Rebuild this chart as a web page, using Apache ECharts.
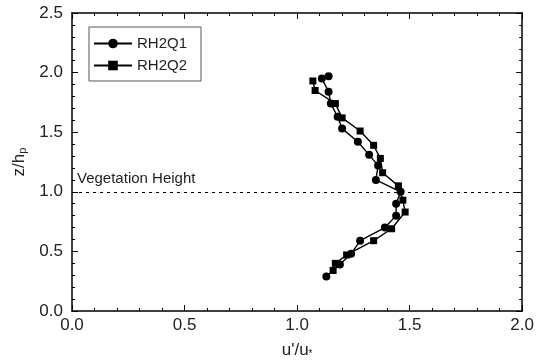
<!DOCTYPE html>
<html><head><meta charset="utf-8">
<script src="https://cdn.jsdelivr.net/npm/echarts@6/dist/echarts.min.js"></script>
<style>html,body{margin:0;padding:0;background:#fff}#c{width:537px;height:364px}</style>
</head><body><div id="c"></div>
<script>
// RH2Q1 (circles): [u'/u*, z/hp]
var rh2q1 = [[1.13,0.29],[1.19,0.39],[1.24,0.48],[1.28,0.59],[1.39,0.70],[1.44,0.80],[1.44,0.90],[1.46,1.00],[1.35,1.10],[1.36,1.22],[1.32,1.31],[1.27,1.42],[1.20,1.53],[1.18,1.63],[1.15,1.74],[1.14,1.84],[1.11,1.95],[1.14,1.97]];
// RH2Q2 (squares)
var rh2q2 = [[1.16,0.34],[1.17,0.40],[1.22,0.47],[1.34,0.59],[1.42,0.69],[1.48,0.83],[1.47,0.93],[1.45,1.05],[1.38,1.16],[1.37,1.28],[1.34,1.39],[1.28,1.51],[1.20,1.62],[1.17,1.74],[1.08,1.85],[1.07,1.93]];
var vegHeight = 1.0;
var xRange = [0, 2.0], yRange = [0, 2.5];
var seriesNames = ['RH2Q1', 'RH2Q2'];

var font = 'Liberation Sans, Arial, sans-serif';
var chart = echarts.init(document.getElementById('c'));
function axisBase(pos, show, range) {
  return {
    type: 'value', position: pos, min: range[0], max: range[1], interval: 0.5,
    axisLine: {show: true, onZero: false, lineStyle: {color: '#000', width: 1.5}},
    axisTick: {show: true, inside: true, length: 6, lineStyle: {color: '#000', width: 1}},
    minorTick: {show: true, splitNumber: 5, length: 3, lineStyle: {color: '#000', width: 1}},
    splitLine: {show: false},
    axisLabel: {show: show, color: '#222', fontSize: 17, fontFamily: font,
      formatter: function (v) { return v.toFixed(1); }}
  };
}
var xa = axisBase('bottom', true, xRange);
xa.axisLabel.margin = 6;
xa.name = "u'/u{s|*}";
xa.nameLocation = 'middle';
xa.nameGap = 30;
xa.nameTextStyle = {color: '#222', fontSize: 17, fontFamily: font,
  rich: {s: {fontSize: 10, padding: [8,0,0,0], color:'#222', fontFamily: font}}};
var xTop = axisBase('top', false, xRange);
var ya = axisBase('left', true, yRange);
ya.axisLabel.margin = 9;
ya.name = 'z/h{s|p}';
ya.nameLocation = 'middle';
ya.nameGap = 35;
ya.nameTextStyle = {color: '#222', fontSize: 17, fontFamily: font,
  rich: {s: {fontSize: 11, padding: [7,0,0,0], color:'#222', fontFamily: font}}};
var yRight = axisBase('right', false, yRange);

chart.setOption({
  animation: false,
  backgroundColor: '#fff',
  grid: {left: 72, right: 14, top: 13, bottom: 51, containLabel: false},
  xAxis: [xa, xTop],
  yAxis: [ya, yRight],
  legend: {
    data: seriesNames, orient: 'vertical', left: 89, top: 27,
    borderColor: '#555', borderWidth: 1, padding: [9, 14, 8, 4],
    itemGap: 7, itemWidth: 38, itemHeight: 12,
    textStyle: {color: '#222', fontSize: 15, fontFamily: font}
  },
  series: [
    {name: seriesNames[0], type: 'line', data: rh2q1, symbol: 'circle', symbolSize: 8,
      itemStyle: {color: '#000'}, lineStyle: {color: '#000', width: 1.4}},
    {name: seriesNames[1], type: 'line', data: rh2q2, symbol: 'rect', symbolSize: 7,
      itemStyle: {color: '#000'}, lineStyle: {color: '#000', width: 1.4}},
    {name: 'veg', type: 'line', data: [], silent: true,
      markLine: {silent: true, symbol: 'none',
        lineStyle: {color: '#000', type: [3, 4], width: 1.2},
        label: {show: true, position: 'insideStartTop', formatter: 'Vegetation Height',
          color: '#222', fontSize: 15, fontFamily: font, distance: [5, 5]},
        data: [{yAxis: vegHeight}]}}
  ]
});
</script></body></html>
